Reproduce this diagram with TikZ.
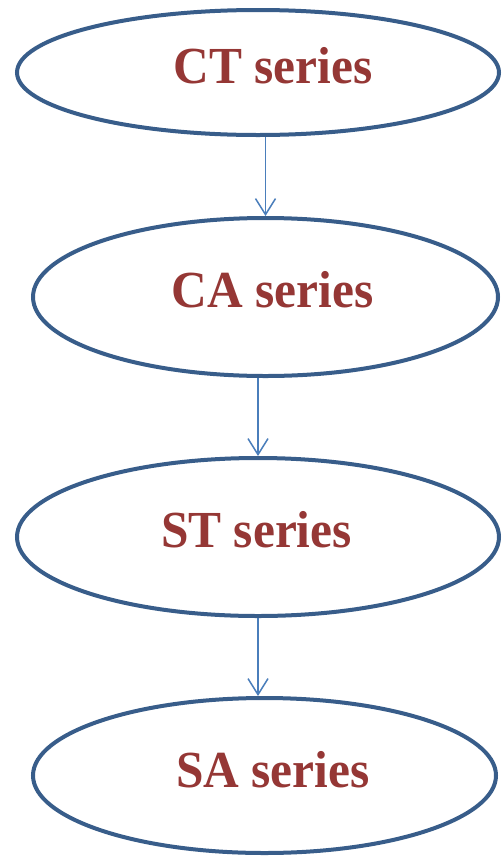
\documentclass[tikz,border=0pt]{standalone}
\usepackage{fontspec}
\newfontfamily\labfont{Liberation Serif}[FakeStretch=0.95]
\usetikzlibrary{shapes.geometric,arrows.meta}
\definecolor{ringblue}{HTML}{385D8A}
\definecolor{labred}{HTML}{953735}
\definecolor{arrblue}{HTML}{4A7EBB}
\tikzset{
  ring/.style={ellipse, draw=ringblue, line width=4pt, fill=white, inner sep=0pt},
  lab/.style={anchor=base, text=labred, font=\labfont\bfseries\fontsize{52}{52}\selectfont, inner sep=0pt},
  link/.style={draw=arrblue, line width=1.5pt, -{Straight Barb[length=16pt,width=20pt,line width=1.5pt]}}
}
\begin{document}
\begin{tikzpicture}[x=1pt,y=-1pt]
\useasboundingbox[fill=white] (0,0) rectangle (501,857);
\node[ring, minimum width=482pt, minimum height=125pt] (e1) at (258,72.5) {};
\node[ring, minimum width=465pt, minimum height=158pt] (e2) at (265.5,297) {};
\node[ring, minimum width=482pt, minimum height=158pt] (e3) at (258,537) {};
\node[ring, minimum width=463pt, minimum height=155pt] (e4) at (264.5,775.5) {};
\node[lab] (t1) at (273,83) {CT series};
\node[lab] (t2) at (272.5,307) {CA series};
\node[lab] (t3) at (256.5,547) {ST series};
\node[lab] (t4) at (273,787) {SA series};
\draw[link] (e1.south -| e2.north) -- (e2.north);
\draw[link] (e2.south -| e3.north) -- (e3.north);
\draw[link] (e3.south) -- (e3.south |- e4.north);
\end{tikzpicture}
\end{document}
